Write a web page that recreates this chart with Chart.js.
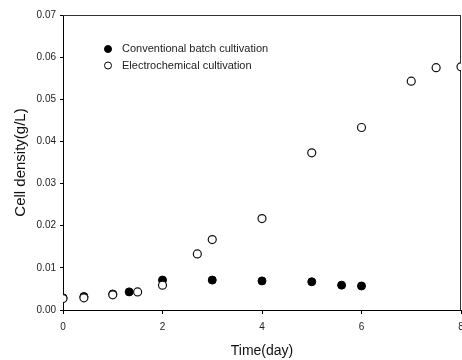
<!DOCTYPE html>
<html>
<head>
<meta charset="utf-8">
<script src="https://cdn.jsdelivr.net/npm/chart.js@4.4.1/dist/chart.umd.min.js"></script>
<style>
  html, body { margin: 0; padding: 0; background: #fff; }
  #wrap { width: 462px; height: 360px; position: relative; }
</style>
</head>
<body>
<div id="wrap"><canvas id="myChart"></canvas></div>
<script>
// data
var batchDays = [0, 0.42, 1.0, 1.33, 2.0, 3.0, 4.0, 5.0, 5.6, 6.0];
var batchDensity = [0.0029, 0.0032, 0.0038, 0.0043, 0.0071, 0.0071, 0.0069, 0.0067, 0.0059, 0.0057];
var electroDays = [0, 0.42, 1.0, 1.5, 2.0, 2.7, 3.0, 4.0, 5.0, 6.0, 7.0, 7.5, 8.0];
var electroDensity = [0.0027, 0.0029, 0.0036, 0.0043, 0.0059, 0.0133, 0.0167, 0.0217, 0.0373, 0.0433, 0.0543, 0.0575, 0.0577];
var seriesNames = ['Conventional batch cultivation', 'Electrochemical cultivation'];
var xTicks = [0, 2, 4, 6, 8];
var yTicks = [0, 0.01, 0.02, 0.03, 0.04, 0.05, 0.06, 0.07];

var FONT = '"Liberation Sans", Arial, sans-serif';

function toPoints(xs, ys) {
    var pts = [];
    for (var i = 0; i < xs.length; i++) {
        pts.push({ x: xs[i], y: ys[i] });
    }
    return pts;
}

// legend drawn inside the plot, top left
var insideLegend = {
    id: 'insideLegend',
    afterDraw: function (chart) {
        var c = chart.ctx;
        var rows = [
            { name: seriesNames[0], fill: '#000' },
            { name: seriesNames[1], fill: '#fff' }
        ];
        c.save();
        c.font = '11px ' + FONT;
        c.textBaseline = 'middle';
        rows.forEach(function (r, i) {
            var y = 49 + i * 16.5;
            c.beginPath();
            c.arc(108, y, 3.5, 0, Math.PI * 2);
            c.fillStyle = r.fill;
            c.fill();
            c.lineWidth = 1;
            c.strokeStyle = '#000';
            c.stroke();
            c.fillStyle = '#222';
            c.fillText(r.name, 122, y);
        });
        c.restore();
    }
};

// frame on top and right
var frame = {
    id: 'frame',
    beforeDatasetsDraw: function (chart) {
        var a = chart.chartArea;
        var c = chart.ctx;
        c.save();
        c.strokeStyle = '#333';
        c.lineWidth = 1;
        c.beginPath();
        c.moveTo(a.left, a.top + 0.5);
        c.lineTo(a.right, a.top + 0.5);
        c.moveTo(a.right - 0.5, a.top);
        c.lineTo(a.right - 0.5, a.bottom);
        c.stroke();
        c.restore();
    }
};

var ctx = document.getElementById('myChart');
var myChart = new Chart(ctx, {
    type: 'scatter',
    data: {
        datasets: [{
            label: seriesNames[0],
            data: toPoints(batchDays, batchDensity),
            backgroundColor: '#000',
            borderColor: '#000',
            borderWidth: 1,
            pointRadius: 4,
            order: 1
        }, {
            label: seriesNames[1],
            data: toPoints(electroDays, electroDensity),
            backgroundColor: '#fff',
            borderColor: '#111',
            borderWidth: 1.2,
            pointRadius: 4,
            order: 0
        }]
    },
    options: {
        responsive: true,
        maintainAspectRatio: false,
        animation: false,
        layout: { autoPadding: false, padding: { top: 15, right: 1, left: 12, bottom: 0 } },
        plugins: {
            legend: { display: false },
            tooltip: { enabled: false }
        },
        scales: {
            x: {
                type: 'linear',
                min: 0,
                max: 8,
                afterBuildTicks: function (scale) {
                    scale.ticks = xTicks.map(function (v) { return { value: v }; });
                },
                afterFit: function (scale) {
                    scale.height = 50;
                    scale.paddingRight = 0;
                    scale.paddingLeft = 0;
                },
                grid: { display: true, drawOnChartArea: false, color: '#000', tickLength: 4 },
                border: { color: '#000', width: 1 },
                ticks: { color: '#222', font: { family: FONT, size: 10 }, padding: 7, maxRotation: 0 },
                title: {
                    display: true,
                    text: 'Time(day)',
                    color: '#111',
                    font: { family: FONT, size: 14 },
                    padding: { top: 3, bottom: 0 }
                }
            },
            y: {
                type: 'linear',
                min: 0,
                max: 0.07,
                afterBuildTicks: function (scale) {
                    scale.ticks = yTicks.map(function (v) { return { value: v }; });
                },
                afterFit: function (scale) {
                    scale.width = 51;
                    scale.paddingTop = 0;
                    scale.paddingBottom = 0;
                },
                grid: { display: true, drawOnChartArea: false, color: '#000', tickLength: 3 },
                border: { color: '#000', width: 1 },
                ticks: {
                    color: '#222',
                    font: { family: FONT, size: 10 },
                    padding: 4,
                    callback: function (v) { return v.toFixed(2); }
                },
                title: {
                    display: true,
                    text: 'Cell density(g/L)',
                    color: '#111',
                    font: { family: FONT, size: 15 },
                    padding: { top: 0, bottom: 4 }
                }
            }
        }
    },
    plugins: [frame, insideLegend]
});
</script>
</body>
</html>
